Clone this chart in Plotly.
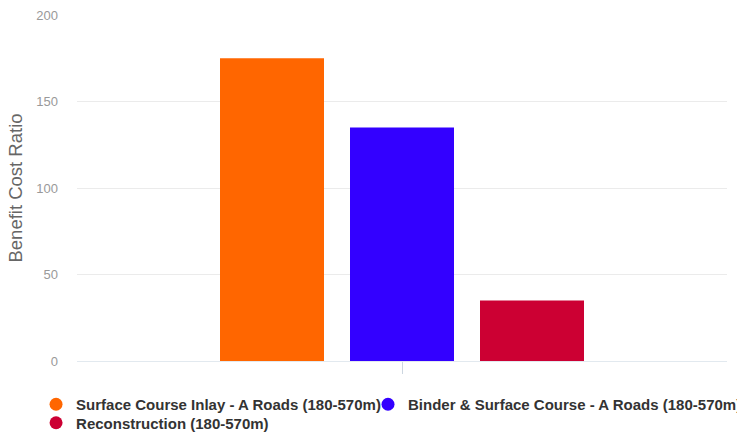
import plotly.graph_objects as go

# Benefit cost ratio per treatment type
treatments = [
    "Surface Course Inlay - A Roads (180-570m)",
    "Binder & Surface Course - A Roads (180-570m)",
    "Reconstruction (180-570m)",
]
ratios = [175, 135, 35]
colors = ["#ff6600", "#3300ff", "#cc0033"]
category = [""]

y_ticks = [0, 50, 100, 150, 200]

# one legend box per entry: (legend id, x, y)
legend_slots = [("legend", -0.063, -0.078), ("legend2", 0.4477, -0.078), ("legend3", -0.063, -0.1315)]

fig = go.Figure()

for name, val, col in zip(treatments, ratios, colors):
    fig.add_trace(go.Bar(
        x=category, y=[val], name=name,
        marker=dict(color=col, line=dict(width=0)),
        showlegend=False,
    ))

# circular legend markers
for name, col, (lg, _, _) in zip(treatments, colors, legend_slots):
    fig.add_trace(go.Scatter(
        x=[None], y=[None], mode="markers", name=name, legend=lg,
        marker=dict(color=col, size=13, symbol="circle"),
    ))

legend_font = dict(size=15, color="#333333", weight="bold")
legend_layout = {}
for lg, lx, ly in legend_slots:
    legend_layout[lg] = dict(
        x=lx, xref="paper", xanchor="left",
        y=ly, yanchor="top",
        font=legend_font, bgcolor="rgba(0,0,0,0)",
        itemclick=False, itemdoubleclick=False,
    )

fig.update_layout(
    width=737, height=433,
    margin=dict(l=77, r=10, t=15, b=72, autoexpand=False),
    paper_bgcolor="white", plot_bgcolor="white",
    barmode="group", bargap=0.4, bargroupgap=0.2,
    font=dict(family="Liberation Sans, Arial, sans-serif"),
    showlegend=True,
    xaxis=dict(
        showgrid=False, showticklabels=False, ticks="outside",
        ticklen=12, tickcolor="#ccd6e0", tickwidth=1, showline=False,
        zeroline=False,
    ),
    yaxis=dict(
        range=[0, 200], tickvals=y_ticks,
        showgrid=True, gridcolor="#ebebeb", gridwidth=1,
        zeroline=True, zerolinecolor="#e2e9ef", zerolinewidth=1,
        tickfont=dict(size=13, color="#999999"),
        ticklabelstandoff=18,
        title=dict(text="Benefit Cost Ratio", font=dict(size=18.5, color="#666666"), standoff=8),
        showline=False,
    ),
    **legend_layout,
)

fig.write_html("out.html")
